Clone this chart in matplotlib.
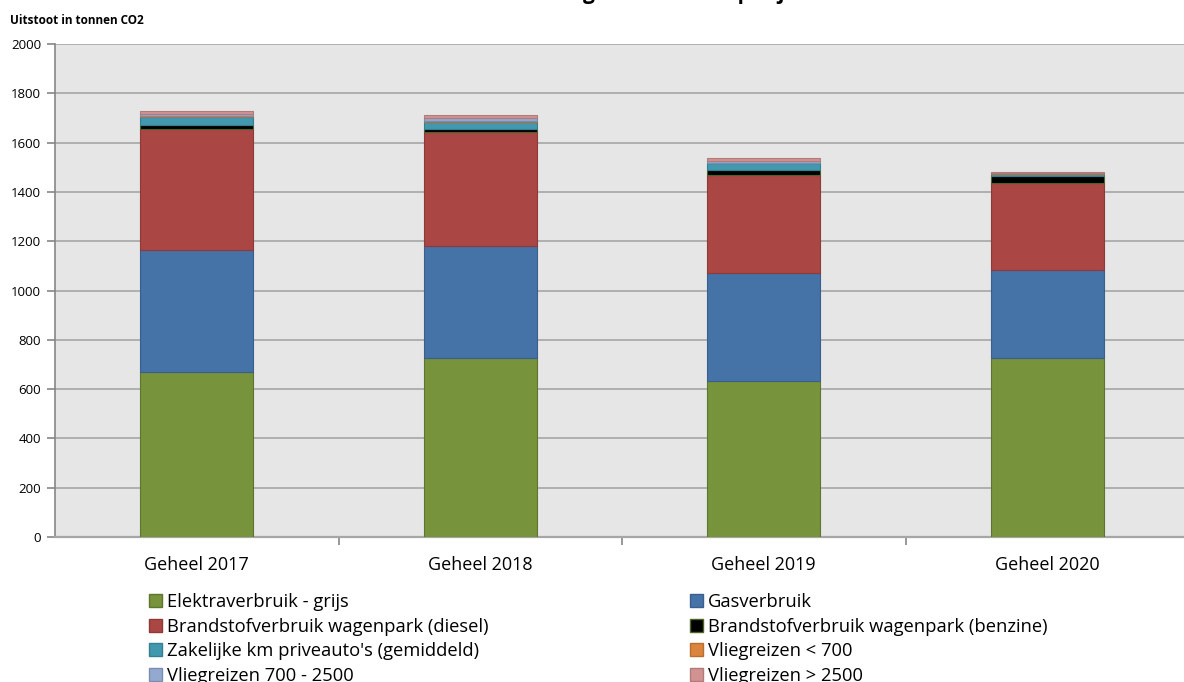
import matplotlib
matplotlib.use("Agg")
import matplotlib.pyplot as plt
from matplotlib.patches import Patch
import numpy as np

categories = ["Geheel 2017", "Geheel 2018", "Geheel 2019", "Geheel 2020"]
series_names = [
    "Elektraverbruik - grijs",
    "Gasverbruik",
    "Brandstofverbruik wagenpark (diesel)",
    "Brandstofverbruik wagenpark (benzine)",
    "Zakelijke km priveauto's (gemiddeld)",
    "Vliegreizen < 700",
    "Vliegreizen 700 - 2500",
    "Vliegreizen > 2500",
]
elektra = [669, 726, 633, 726]
gas = [495, 455, 438, 357]
diesel = [491, 462, 398, 353]
benzine = [15, 12, 20, 30]
zakelijk = [32, 30, 28, 8]
vlieg_lt700 = [4, 3, 2, 1]
vlieg_700_2500 = [8, 10, 8, 3]
vlieg_gt2500 = [14, 14, 10, 3]
yticks = [0, 200, 400, 600, 800, 1000, 1200, 1400, 1600, 1800, 2000]

series = [elektra, gas, diesel, benzine, zakelijk, vlieg_lt700, vlieg_700_2500, vlieg_gt2500]
colors = ["#77933C", "#4572A7", "#AA4643", "#000000", "#4198AF", "#DB843D", "#93A9CF", "#D19392"]
edges = ["#5E7530", "#3A5F8C", "#8E3A38", "#4F6228", "#35808F", "#B86E32", "#7A8DAE", "#B07B7A"]

FAM = ['Open Sans', 'DejaVu Sans']
plt.rcParams['font.family'] = FAM

fig = plt.figure(figsize=(11.84, 6.82), dpi=100)
W, H = 1184, 682
ax = fig.add_axes([55 / W, (H - 537) / H, 1134 / W, 493 / H])
ax.set_facecolor("#E6E6E6")

x = np.arange(len(categories))
bottom = np.zeros(len(categories))
for vals, c, ec in zip(series, colors, edges):
    ax.bar(x, vals, width=0.4, bottom=bottom, color=c, edgecolor=ec, linewidth=0.8, zorder=3)
    bottom += np.array(vals)

ax.set_xlim(-0.5, len(categories) - 0.5)
ax.set_ylim(0, 2000)
ax.set_yticks(yticks)
ax.set_yticklabels([str(v) for v in yticks], fontsize=9.5)
ax.yaxis.grid(True, color="#A6A6A6", linewidth=1.2, zorder=0)
ax.set_axisbelow(True)

ax.set_xticks(x)
ax.set_xticklabels(categories, fontsize=13)
ax.set_xticks(np.arange(0.5, len(categories) - 0.5, 1), minor=True)
ax.tick_params(axis='x', which='major', length=0, pad=14)
ax.tick_params(axis='x', which='minor', length=6, color="#868686", width=1.2)
ax.tick_params(axis='y', length=6, color="#868686", width=1.2, pad=4)

for s in ["top", "right"]:
    ax.spines[s].set_visible(False)
ax.spines["left"].set_color("#868686")
ax.spines["bottom"].set_color("#A6A6A6")
ax.spines["left"].set_linewidth(1.2)
ax.spines["bottom"].set_linewidth(1.6)

fig.text(10 / W, 1 - 20 / H, "Uitstoot in tonnen CO2", fontsize=8.5, fontweight='bold',
         va='center', ha='left')
fig.text(637 / W, 1 + 1.5 / H, "Ontwikkeling CO2-uitstoot per jaar", fontsize=15, fontweight='bold',
         va='baseline', ha='center')

handles = [Patch(facecolor=c, edgecolor=ec, linewidth=1.0) for c, ec in zip(colors, edges)]
col1 = [0, 2, 4, 6]
col2 = [1, 3, 5, 7]
for idx, xpos in ((col1, 149), (col2, 690)):
    fig.legend([handles[i] for i in idx], [series_names[i] for i in idx],
               loc='upper left', bbox_to_anchor=(xpos / W, 1 - 593 / H),
               frameon=False, handlelength=0.7, handleheight=0.7,
               handletextpad=0.3, labelspacing=0.36, borderaxespad=0, borderpad=0,
               prop={'family': FAM, 'size': 13.2})

fig.savefig("out.png", dpi=100)
